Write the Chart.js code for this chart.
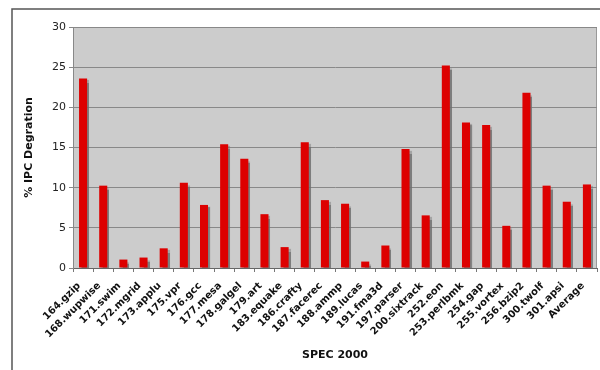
<!DOCTYPE html>
<html>
<head>
<meta charset="utf-8">
<script src="https://cdn.jsdelivr.net/npm/chart.js@4/dist/chart.umd.min.js"></script>
<style>
  html, body { margin: 0; padding: 0; background: #fff; }
  #wrap { width: 600px; height: 370px; }
</style>
</head>
<body>
<div id="wrap"><canvas id="js-chart-ipc" width="600" height="370"></canvas></div>
<script>
  // Chart data
  const benchmarks = ['164.gzip', '168.wupwise', '171.swim', '172.mgrid', '173.applu', '175.vpr',
    '176.gcc', '177.mesa', '178.galgel', '179.art', '183.equake', '186.crafty', '187.facerec',
    '188.ammp', '189.lucas', '191.fma3d', '197.parser', '200.sixtrack', '252.eon', '253.perlbmk',
    '254.gap', '255.vortex', '256.bzip2', '300.twolf', '301.apsi', 'Average'];
  const ipcDegradation = [23.6, 10.25, 1.05, 1.3, 2.45, 10.6, 7.85, 15.4, 13.6, 6.7, 2.6, 15.65,
    8.45, 8.0, 0.8, 2.8, 14.8, 6.55, 25.2, 18.1, 17.8, 5.25, 21.8, 10.25, 8.25, 10.4];
  const yTicks = [0, 5, 10, 15, 20, 25, 30];

  // Plot background, plot border and the outer frame
  const plotBackground = {
    id: 'plotBackground',
    beforeDraw(chart) {
      const {ctx, chartArea: a} = chart;
      ctx.save();
      ctx.fillStyle = '#fff';
      ctx.fillRect(0, 0, chart.width, chart.height);
      ctx.fillStyle = '#cccccc';
      ctx.fillRect(a.left, a.top, a.right - a.left, a.bottom - a.top);
      ctx.strokeStyle = '#999';
      ctx.lineWidth = 1;
      ctx.strokeRect(a.left + 0.5, a.top + 0.5, a.right - a.left - 1, a.bottom - a.top);
      // outer frame
      ctx.strokeStyle = '#555';
      ctx.lineWidth = 1.5;
      ctx.beginPath();
      ctx.moveTo(600, 9);
      ctx.lineTo(12, 9);
      ctx.lineTo(12, 370);
      ctx.stroke();
      ctx.restore();
    }
  };

  // Gray drop shadow behind the bars
  const barShadow = {
    id: 'barShadow',
    beforeDatasetsDraw(chart) {
      const ctx = chart.ctx;
      ctx.save();
      ctx.shadowColor = 'rgba(110,110,110,0.85)';
      ctx.shadowOffsetX = 2;
      ctx.shadowOffsetY = 2;
      ctx.shadowBlur = 1;
    },
    afterDatasetsDraw(chart) {
      chart.ctx.restore();
    }
  };

  const chartCon = document.getElementById('js-chart-ipc');

  new Chart(chartCon, {
    type: 'bar',
    data: {
      labels: benchmarks,
      datasets: [{
        label: '% IPC Degration',
        data: ipcDegradation,
        backgroundColor: '#dd0000',
        borderWidth: 0,
        barPercentage: 0.8,
        categoryPercentage: 0.5
      }]
    },
    options: {
      responsive: false,
      animation: false,
      layout: {
        padding: {left: 0, top: 27, right: 3, bottom: 0}
      },
      plugins: {
        legend: {display: false},
        tooltip: {enabled: false}
      },
      scales: {
        x: {
          grid: {
            display: true,
            offset: true,
            drawOnChartArea: false,
            drawTicks: true,
            tickLength: 4,
            color: '#777'
          },
          border: {display: true, color: '#666', width: 1},
          ticks: {
            autoSkip: false,
            minRotation: 45,
            maxRotation: 45,
            padding: 8,
            labelOffset: -4,
            color: '#111',
            font: {family: 'DejaVu Sans', size: 10, weight: 'bold'}
          },
          title: {
            display: true,
            text: 'SPEC 2000',
            color: '#111',
            padding: {top: 0, bottom: 8},
            font: {family: 'DejaVu Sans', size: 11, weight: 'bold'}
          },
          afterFit(scale) {
            scale.height = 102;
            scale.paddingLeft = 0;
            scale.paddingRight = 0;
          }
        },
        y: {
          min: 0,
          max: 30,
          afterBuildTicks(scale) {
            scale.ticks = yTicks.map(v => ({value: v}));
          },
          grid: {
            color: '#888',
            lineWidth: 1,
            drawTicks: true,
            tickLength: 4,
            tickColor: '#888'
          },
          border: {display: true, color: '#888', width: 1},
          ticks: {
            padding: 3,
            color: '#222',
            font: {family: 'DejaVu Sans', size: 11}
          },
          title: {
            display: true,
            text: '% IPC Degration',
            color: '#111',
            padding: {top: 23, bottom: 0},
            font: {family: 'DejaVu Sans', size: 11, weight: 'bold'}
          },
          afterFit(scale) {
            scale.width = 73;
            scale.paddingTop = 0;
            scale.paddingBottom = 0;
          }
        }
      }
    },
    plugins: [plotBackground, barShadow]
  });
</script>
</body>
</html>
